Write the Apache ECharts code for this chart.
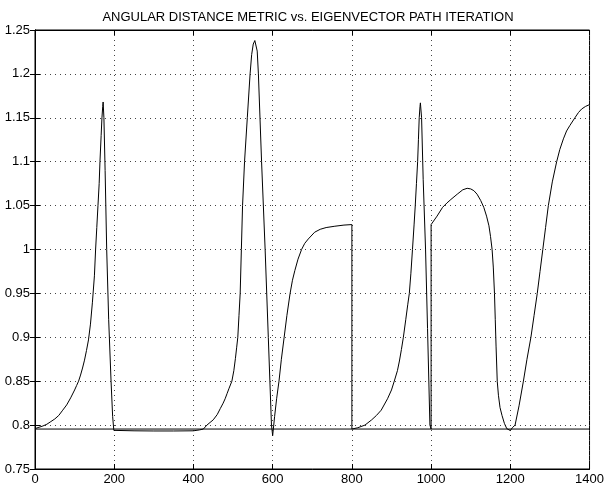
<!DOCTYPE html>
<html>
<head>
<meta charset="utf-8">
<title>Angular distance metric</title>
<script src="https://cdn.jsdelivr.net/npm/echarts@6/dist/echarts.min.js"></script>
<style>
  html, body { margin: 0; padding: 0; background: #fff; }
  #chart { width: 607px; height: 488px; }
</style>
</head>
<body>
<div id="chart"></div>
<script>
// iteration index along the eigenvector path
const iterX = [
  0, 10, 20, 30, 40, 50, 60, 70, 80, 90, 100, 105, 110, 115, 120, 125, 130, 135, 140, 145, 150, 153, 156, 159, 162, 164, 167, 169, 171, 172, 173, 174, 177, 181, 186, 192, 196, 199,
  200, 250, 300, 350, 400, 415, 425,
  434, 442, 450, 460, 468, 475, 480, 485, 490, 497, 502, 506, 509, 512, 515, 518, 521, 524, 529, 536, 543, 547, 551, 555, 558, 561, 564, 572, 581, 589, 597, 600,
  605, 610, 616, 622, 629, 636, 644, 650, 656, 664, 673, 681, 690, 706, 720, 735, 757, 780, 800,
  800, 815, 833, 850, 862, 874, 890, 900, 907, 915, 920, 925, 930, 936, 941, 945, 949, 953, 957, 960, 963, 966, 968, 970, 972, 973, 974, 976, 980, 986, 991, 997, 1000,
  1000, 1015, 1029, 1040, 1050, 1066, 1080, 1091, 1100, 1108, 1116, 1125, 1133, 1140, 1146, 1150, 1154, 1157, 1160, 1162, 1164, 1167, 1170, 1174, 1179, 1185, 1191, 1196, 1200,
  1205, 1212, 1222, 1233, 1242, 1252, 1260, 1268, 1275, 1282, 1289, 1296, 1306, 1317, 1325, 1334, 1342, 1350, 1363, 1372, 1380, 1390, 1400
];
// angular distance metric at each iteration
const metricY = [
  0.796, 0.7975, 0.799, 0.801, 0.804, 0.807, 0.811, 0.817, 0.823, 0.831, 0.84, 0.845, 0.85, 0.857, 0.865, 0.874, 0.885, 0.897, 0.915, 0.94, 0.97, 1.0, 1.025, 1.05, 1.075, 1.1, 1.13, 1.15, 1.163, 1.168, 1.166, 1.15, 1.09, 1.0, 0.92, 0.85, 0.81, 0.794,
  0.7938, 0.7935, 0.7933, 0.7933, 0.7935, 0.7945, 0.7955,
  0.8, 0.803, 0.806, 0.812, 0.819, 0.825, 0.83, 0.836, 0.842, 0.85, 0.862, 0.876, 0.888, 0.9, 0.925, 0.95, 1.0, 1.05, 1.1, 1.15, 1.2, 1.222, 1.234, 1.238, 1.236, 1.226, 1.2, 1.1, 1.0, 0.9, 0.8, 0.788,
  0.81, 0.83, 0.85, 0.875, 0.9, 0.925, 0.95, 0.965, 0.976, 0.989, 1.0, 1.007, 1.012, 1.0197, 1.023, 1.025, 1.0265, 1.0278, 1.0284,
  0.7955, 0.797, 0.8, 0.806, 0.811, 0.817, 0.83, 0.84, 0.85, 0.862, 0.873, 0.886, 0.9, 0.92, 0.937, 0.95, 0.973, 1.0, 1.028, 1.05, 1.075, 1.1, 1.125, 1.15, 1.163, 1.167, 1.165, 1.15, 1.08, 1.0, 0.91, 0.8, 0.7955,
  1.0284, 1.038, 1.048, 1.053, 1.057, 1.063, 1.068, 1.0697, 1.069, 1.067, 1.063, 1.056, 1.048, 1.038, 1.027, 1.015, 1.0, 0.98, 0.95, 0.92, 0.89, 0.85, 0.834, 0.82, 0.811, 0.802, 0.796, 0.794, 0.7938,
  0.797, 0.8, 0.822, 0.85, 0.875, 0.9, 0.925, 0.95, 0.975, 1.0, 1.025, 1.05, 1.077, 1.1, 1.114, 1.126, 1.135, 1.141, 1.15, 1.156, 1.16, 1.163, 1.165
];
// flat reference level drawn across the whole range
const refX = [0, 1400];
const refY = [0.7955, 0.7955];

const xTicks = [0, 200, 400, 600, 800, 1000, 1200, 1400];
const yTicks = [0.75, 0.8, 0.85, 0.9, 0.95, 1, 1.05, 1.1, 1.15, 1.2, 1.25];

const font = 'Liberation Sans, Arial, sans-serif';
const pairs = (xs, ys) => xs.map((x, i) => [x, ys[i]]);

var myChart = echarts.init(document.getElementById('chart'));

const dotted = {
  show: true,
  lineStyle: { color: '#444', width: 1, type: [1, 4] }
};

const getOptions = () => {
  return {
    animation: false,
    backgroundColor: '#fff',
    title: {
      text: 'ANGULAR DISTANCE METRIC vs. EIGENVECTOR PATH ITERATION',
      left: 303,
      textAlign: 'center',
      top: 6,
      textStyle: { fontFamily: font, fontSize: 13, fontWeight: 'normal', color: '#000' }
    },
    grid: {
      left: 35,
      right: 14,
      top: 30,
      bottom: 19,
      show: true,
      borderColor: '#000',
      borderWidth: 1
    },
    xAxis: [
      {
        type: 'value',
        min: xTicks[0],
        max: xTicks[xTicks.length - 1],
        interval: 200,
        axisLine: { show: true, onZero: false, lineStyle: { color: '#000' } },
        axisTick: { inside: true, length: 5, lineStyle: { color: '#000' } },
        axisLabel: { color: '#000', fontFamily: font, fontSize: 13, margin: 4, formatter: v => String(v) },
        splitLine: dotted
      },
      {
        type: 'value',
        position: 'top',
        min: xTicks[0],
        max: xTicks[xTicks.length - 1],
        interval: 200,
        axisLine: { show: true, lineStyle: { color: '#000' } },
        axisTick: { inside: true, length: 5, lineStyle: { color: '#000' } },
        axisLabel: { show: false },
        splitLine: { show: false }
      }
    ],
    yAxis: [
      {
        type: 'value',
        min: yTicks[0],
        max: yTicks[yTicks.length - 1],
        interval: 0.05,
        axisLine: { show: true, onZero: false, lineStyle: { color: '#000' } },
        axisTick: { inside: true, length: 5, lineStyle: { color: '#000' } },
        axisLabel: { color: '#000', fontFamily: font, fontSize: 13, margin: 5 },
        splitLine: dotted
      },
      {
        type: 'value',
        position: 'right',
        min: yTicks[0],
        max: yTicks[yTicks.length - 1],
        interval: 0.05,
        axisLine: { show: true, lineStyle: { color: '#000' } },
        axisTick: { inside: true, length: 5, lineStyle: { color: '#000' } },
        axisLabel: { show: false },
        splitLine: { show: false }
      }
    ],
    series: [
      {
        name: 'reference',
        type: 'line',
        data: pairs(refX, refY),
        showSymbol: false,
        lineStyle: { color: '#000', width: 1 },
        silent: true
      },
      {
        name: 'metric',
        type: 'line',
        data: pairs(iterX, metricY),
        showSymbol: false,
        lineStyle: { color: '#000', width: 1 }
      }
    ]
  };
};

myChart.setOption(getOptions());
</script>
</body>
</html>
